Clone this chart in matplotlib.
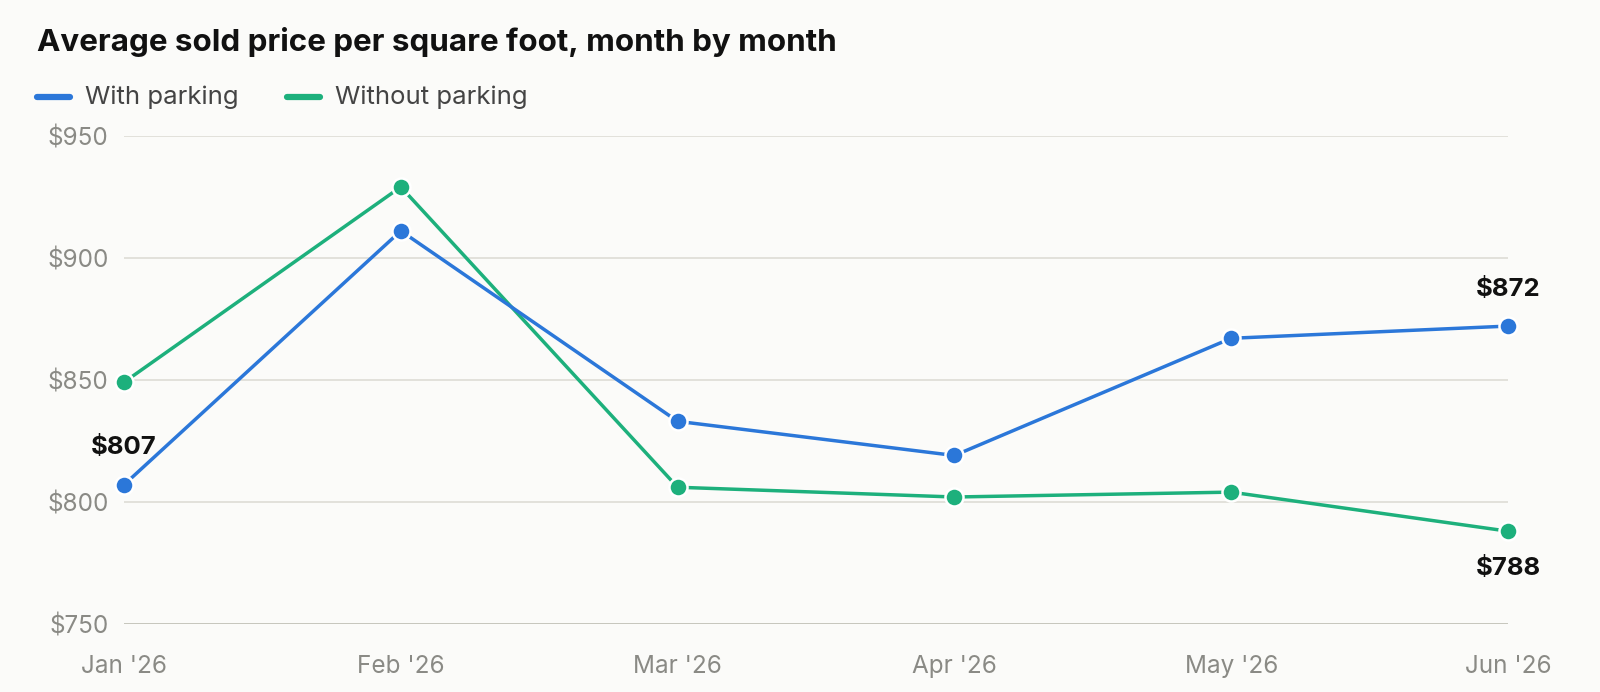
import matplotlib

matplotlib.use("Agg")

import matplotlib.pyplot as plt
from matplotlib.lines import Line2D

plt.rcParams["font.family"] = ["Inter", "DejaVu Sans"]

months = ["Jan '26", "Feb '26", "Mar '26", "Apr '26", "May '26", "Jun '26"]
with_parking = [807, 911, 833, 819, 867, 872]
without_parking = [849, 929, 806, 802, 804, 788]
y_ticks = [750, 800, 850, 900, 950]

BLUE = "#2b77d9"
GREEN = "#1db07c"
BG = "#fbfbf9"

fig = plt.figure(figsize=(16, 6.92), dpi=100, facecolor=BG)
ax = fig.add_axes([0.0775, 0.0983, 0.865, 0.7057], facecolor=BG)

x = list(range(len(months)))
for vals, color in [(without_parking, GREEN), (with_parking, BLUE)]:
    ax.plot(x, vals, color=color, lw=2.5, marker="o", ms=13,
            mfc=color, mec="white", mew=1.8, clip_on=False, zorder=3)

ax.set_xlim(0, len(months) - 1)
ax.set_ylim(750, 950)
ax.set_yticks(y_ticks)
ax.set_yticklabels([f"${v}" for v in y_ticks])
ax.set_xticks(x)
ax.set_xticklabels(months)
ax.tick_params(length=0, labelsize=17.5, labelcolor="#8a8a85")
ax.tick_params(axis="y", pad=11)
ax.tick_params(axis="x", pad=22)
for s in ax.spines.values():
    s.set_visible(False)
for v in y_ticks:
    ax.axhline(v, color="#bdbdb3" if v == 750 else "#dddcd5", lw=1.2, zorder=1)

# end labels
lbl = dict(ha="center", fontsize=18.5, fontweight="bold", color="#111111")
ax.annotate(f"${with_parking[0]}", (0, with_parking[0]), xytext=(0, 27),
            textcoords="offset points", va="center", **lbl)
ax.annotate(f"${with_parking[-1]}", (5, with_parking[-1]), xytext=(0, 26),
            textcoords="offset points", va="center", **lbl)
ax.annotate(f"${without_parking[-1]}", (5, without_parking[-1]), xytext=(0, -27),
            textcoords="offset points", va="center", **lbl)

fig.text(37 / 1600, 1 - 42 / 692, "Average sold price per square foot, month by month",
         fontsize=22.6, fontweight="bold", color="#111111", va="center")

# legend
for x0, color, name in [(37, BLUE, "With parking"), (287, GREEN, "Without parking")]:
    y = 1 - 97 / 692
    fig.add_artist(Line2D([x0 / 1600, (x0 + 33) / 1600], [y, y], color=color,
                          lw=4.5, solid_capstyle="round", transform=fig.transFigure))
    fig.text((x0 + 48) / 1600, y, name, fontsize=18.5, color="#444444", va="center")

fig.savefig("out.png", dpi=100, facecolor=BG)
